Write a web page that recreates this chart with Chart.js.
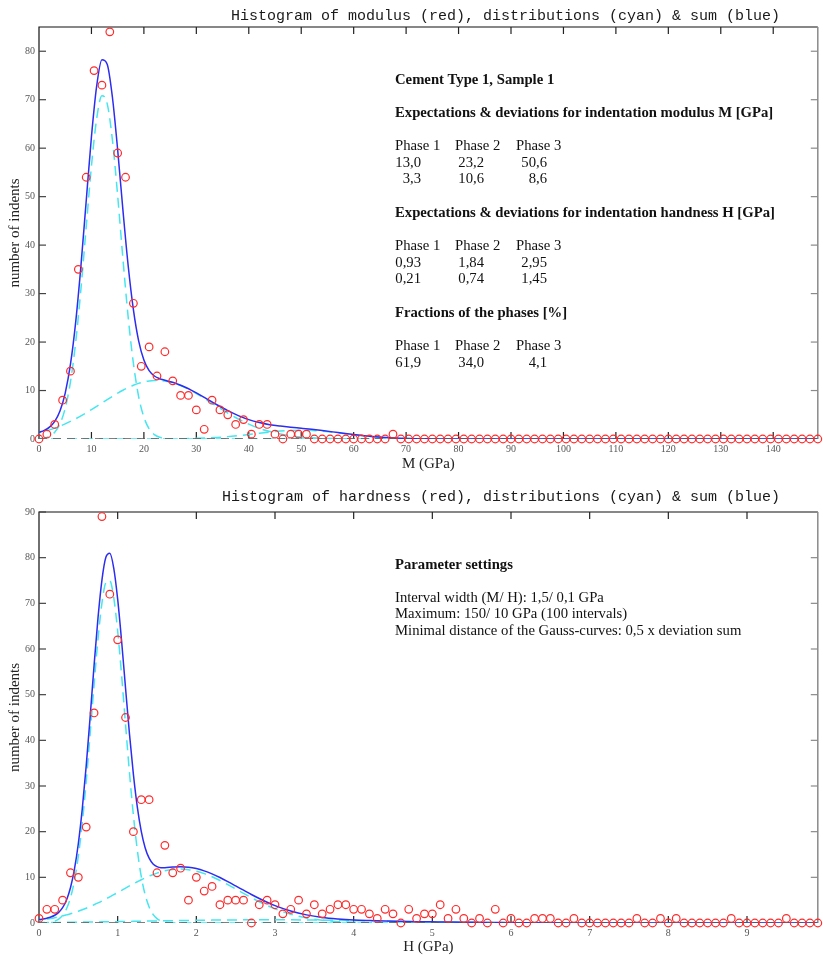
<!DOCTYPE html>
<html>
<head>
<meta charset="utf-8">
<script src="https://cdn.jsdelivr.net/npm/chart.js@4.4.0/dist/chart.umd.min.js"></script>
<style>
  html, body { margin: 0; padding: 0; background: #fff; }
  #wrap { position: relative; width: 823px; height: 955px; }
  canvas { position: absolute; left: 0; }
  #topChart { top: 0; }
  #bottomChart { top: 480px; }
</style>
</head>
<body>
<div id="wrap">
  <canvas id="topChart" width="823" height="472"></canvas>
  <canvas id="bottomChart" width="823" height="475"></canvas>
</div>
<script>
// ---- modulus histogram (interval 1,5 GPa) ----
const modulusX = [0, 1.5, 3, 4.5, 6, 7.5, 9, 10.5, 12, 13.5, 15, 16.5, 18, 19.5, 21, 22.5, 24, 25.5, 27, 28.5,
  30, 31.5, 33, 34.5, 36, 37.5, 39, 40.5, 42, 43.5, 45, 46.5, 48, 49.5, 51, 52.5, 54, 55.5, 57, 58.5,
  60, 61.5, 63, 64.5, 66, 67.5, 69, 70.5, 72, 73.5, 75, 76.5, 78, 79.5, 81, 82.5, 84, 85.5, 87, 88.5,
  90, 91.5, 93, 94.5, 96, 97.5, 99, 100.5, 102, 103.5, 105, 106.5, 108, 109.5, 111, 112.5, 114, 115.5, 117, 118.5,
  120, 121.5, 123, 124.5, 126, 127.5, 129, 130.5, 132, 133.5, 135, 136.5, 138, 139.5, 141, 142.5, 144, 145.5, 147, 148.5];
const modulusCount = [0, 1, 3, 8, 14, 35, 54, 76, 73, 84, 59, 54, 28, 15, 19, 13, 18, 12, 9, 9,
  6, 2, 8, 6, 5, 3, 4, 1, 3, 3, 1, 0, 1, 1, 1, 0, 0, 0, 0, 0,
  0, 0, 0, 0, 0, 1, 0, 0, 0, 0, 0, 0, 0, 0, 0, 0, 0, 0, 0, 0,
  0, 0, 0, 0, 0, 0, 0, 0, 0, 0, 0, 0, 0, 0, 0, 0, 0, 0, 0, 0,
  0, 0, 0, 0, 0, 0, 0, 0, 0, 0, 0, 0, 0, 0, 0, 0, 0, 0, 0, 0];

// fitted curves for modulus
const modulusCurveX = [0, 1, 2, 3, 4, 5, 6, 7, 8, 9, 10, 11, 12, 13, 14, 15, 16, 17, 18, 19, 20,
  21, 22, 23, 24, 25, 26, 27, 28, 29, 30,
  32, 34, 36, 38, 40, 42, 44, 46, 48, 50, 52, 54, 56, 58, 60, 62, 64, 66, 68, 70, 72, 74, 76, 78, 80, 148.5];
const modulusPhase1 = [0.07, 0.21, 0.57, 1.4, 3.12, 6.36, 11.8, 20.0, 31.0, 43.7, 56.3, 66.1, 70.8, 69.2, 61.7, 50.2, 37.2, 25.2, 15.6, 8.76, 4.5,
  2.11, 0.9, 0.35, 0.13, 0.04, 0.01, 0, 0, 0, 0,
  0, 0, 0, 0, 0, 0, 0, 0, 0, 0, 0, 0, 0, 0, 0, 0, 0, 0, 0, 0, 0, 0, 0, 0, 0, 0];
const modulusPhase2 = [1.28, 1.56, 1.88, 2.25, 2.66, 3.12, 3.63, 4.18, 4.78, 5.41, 6.07, 6.75, 7.44, 8.13, 8.81, 9.45, 10.06, 10.6, 11.08, 11.48, 11.78,
  11.99, 12.09, 12.08, 11.97, 11.75, 11.44, 11.04, 10.55, 10.0, 9.39,
  8.06, 6.68, 5.35, 4.13, 3.07, 2.21, 1.53, 1.03, 0.66, 0.41, 0.25, 0.14, 0.08, 0.04, 0.02, 0.01, 0, 0, 0, 0, 0, 0, 0, 0, 0, 0];
const modulusPhase3 = [0, 0, 0, 0, 0, 0, 0, 0, 0, 0, 0, 0, 0, 0, 0, 0, 0, 0, 0, 0, 0,
  0, 0.01, 0.01, 0.02, 0.03, 0.04, 0.05, 0.07, 0.1, 0.13,
  0.21, 0.33, 0.49, 0.7, 0.93, 1.19, 1.43, 1.63, 1.76, 1.8, 1.74, 1.6, 1.39, 1.15, 0.9, 0.66, 0.46, 0.31, 0.19, 0.12, 0.07, 0.03, 0.02, 0.01, 0, 0];
const modulusSum = [1.35, 1.77, 2.45, 3.65, 5.78, 9.48, 15.43, 24.18, 35.78, 49.11, 62.37, 72.85, 78.24, 77.33, 70.51, 59.65, 47.26, 35.8, 26.68, 20.24, 16.28,
  14.1, 13.0, 12.44, 12.12, 11.82, 11.49, 11.09, 10.62, 10.1, 9.52,
  8.27, 7.01, 5.84, 4.83, 4.0, 3.4, 2.96, 2.66, 2.42, 2.21, 1.99, 1.74, 1.47, 1.19, 0.92, 0.67, 0.46, 0.31, 0.19, 0.12, 0.07, 0.03, 0.02, 0.01, 0, 0];

// ---- hardness histogram (interval 0,1 GPa) ----
const hardnessX = [0, 0.1, 0.2, 0.3, 0.4, 0.5, 0.6, 0.7, 0.8, 0.9, 1.0, 1.1, 1.2, 1.3, 1.4, 1.5, 1.6, 1.7, 1.8, 1.9,
  2.0, 2.1, 2.2, 2.3, 2.4, 2.5, 2.6, 2.7, 2.8, 2.9, 3.0, 3.1, 3.2, 3.3, 3.4, 3.5, 3.6, 3.7, 3.8, 3.9,
  4.0, 4.1, 4.2, 4.3, 4.4, 4.5, 4.6, 4.7, 4.8, 4.9, 5.0, 5.1, 5.2, 5.3, 5.4, 5.5, 5.6, 5.7, 5.8, 5.9,
  6.0, 6.1, 6.2, 6.3, 6.4, 6.5, 6.6, 6.7, 6.8, 6.9, 7.0, 7.1, 7.2, 7.3, 7.4, 7.5, 7.6, 7.7, 7.8, 7.9,
  8.0, 8.1, 8.2, 8.3, 8.4, 8.5, 8.6, 8.7, 8.8, 8.9, 9.0, 9.1, 9.2, 9.3, 9.4, 9.5, 9.6, 9.7, 9.8, 9.9];
const hardnessCount = [1, 3, 3, 5, 11, 10, 21, 46, 89, 72, 62, 45, 20, 27, 27, 11, 17, 11, 12, 5,
  10, 7, 8, 4, 5, 5, 5, 0, 4, 5, 4, 2, 3, 5, 2, 4, 2, 3, 4, 4,
  3, 3, 2, 1, 3, 2, 0, 3, 1, 2, 2, 4, 1, 3, 1, 0, 1, 0, 3, 0,
  1, 0, 0, 1, 1, 1, 0, 0, 1, 0, 0, 0, 0, 0, 0, 0, 1, 0, 0, 1,
  0, 1, 0, 0, 0, 0, 0, 0, 1, 0, 0, 0, 0, 0, 0, 1, 0, 0, 0, 0];

const hardnessCurveX = [0, 0.05, 0.1, 0.15, 0.2, 0.25, 0.3, 0.35, 0.4, 0.45, 0.5, 0.55, 0.6, 0.65, 0.7, 0.75, 0.8, 0.85, 0.9, 0.95,
  1.0, 1.05, 1.1, 1.15, 1.2, 1.25, 1.3, 1.35, 1.4, 1.45, 1.5, 1.55, 1.6,
  1.7, 1.8, 1.9, 2.0, 2.1, 2.2, 2.3, 2.4, 2.5, 2.6, 2.7, 2.8, 2.9, 3.0,
  3.2, 3.4, 3.6, 3.8, 4.0, 4.2, 4.4, 4.6, 4.8, 5.0, 5.2, 5.4, 5.6, 5.8, 6.0, 7, 8, 9.9];
const hardnessPhase1 = [0.01, 0.03, 0.08, 0.18, 0.4, 0.84, 1.66, 3.12, 5.53, 9.26, 14.65, 21.9, 30.96, 41.33, 52.15, 62.17, 70.03, 74.54, 74.96, 71.23,
  63.95, 54.26, 43.49, 32.95, 23.58, 15.95, 10.19, 6.15, 3.51, 1.89, 0.96, 0.46, 0.21,
  0.04, 0.01, 0, 0, 0, 0, 0, 0, 0, 0, 0, 0, 0, 0,
  0, 0, 0, 0, 0, 0, 0, 0, 0, 0, 0, 0, 0, 0, 0, 0, 0, 0];
const hardnessPhase2 = [0.63, 0.74, 0.87, 1.01, 1.17, 1.35, 1.55, 1.78, 2.02, 2.29, 2.58, 2.9, 3.24, 3.6, 3.99, 4.4, 4.82, 5.27, 5.73, 6.2,
  6.67, 7.16, 7.64, 8.12, 8.59, 9.04, 9.48, 9.89, 10.27, 10.62, 10.93, 11.2, 11.42,
  11.71, 11.8, 11.67, 11.33, 10.81, 10.12, 9.31, 8.4, 7.45, 6.48, 5.54, 4.65, 3.83, 3.1,
  1.92, 1.11, 0.59, 0.3, 0.14, 0.06, 0.02, 0.01, 0, 0, 0, 0, 0, 0, 0, 0, 0, 0];
const hardnessPhase3 = [0.1, 0.1, 0.11, 0.12, 0.13, 0.13, 0.14, 0.15, 0.16, 0.17, 0.18, 0.19, 0.2, 0.21, 0.23, 0.24, 0.25, 0.26, 0.27, 0.29,
  0.3, 0.32, 0.33, 0.34, 0.36, 0.37, 0.39, 0.4, 0.42, 0.43, 0.45, 0.46, 0.48,
  0.5, 0.53, 0.56, 0.59, 0.61, 0.63, 0.65, 0.67, 0.68, 0.7, 0.7, 0.71, 0.71, 0.71,
  0.7, 0.67, 0.63, 0.59, 0.53, 0.48, 0.42, 0.36, 0.3, 0.25, 0.2, 0.16, 0.13, 0.1, 0.07, 0.01, 0, 0];
const hardnessSum = [0.74, 0.87, 1.06, 1.31, 1.7, 2.32, 3.35, 5.05, 7.71, 11.72, 17.41, 24.99, 34.4, 45.14, 56.37, 66.81, 75.1, 80.07, 80.96, 77.72,
  70.92, 61.74, 51.46, 41.41, 32.53, 25.36, 20.06, 16.44, 14.2, 12.94, 12.34, 12.12, 12.11,
  12.25, 12.34, 12.23, 11.92, 11.42, 10.75, 9.96, 9.07, 8.13, 7.18, 6.24, 5.36, 4.54, 3.81,
  2.62, 1.78, 1.22, 0.89, 0.67, 0.54, 0.44, 0.37, 0.3, 0.25, 0.2, 0.16, 0.13, 0.1, 0.07, 0.01, 0, 0];

// zero line
const modulusBaseX = [0, 148.5];
const hardnessBaseX = [0, 9.9];
const baseY = [0, 0];

// text block values
const phaseNames = ['Phase 1', 'Phase 2', 'Phase 3'];
const modulusMeans = ['13,0', '23,2', '50,6'];
const modulusDevs = ['3,3', '10,6', '8,6'];
const hardnessMeans = ['0,93', '1,84', '2,95'];
const hardnessDevs = ['0,21', '0,74', '1,45'];
const phaseFractions = ['61,9', '34,0', '4,1'];

const RED = '#ff2a2a';
const BLUE = '#2c2cf2';
const CYAN = '#45e6f0';
const SERIF = '"Liberation Serif", "Times New Roman", serif';

function pts(xs, ys) {
  return xs.map((x, i) => ({ x: x, y: ys[i] }));
}

function line(ctx, x1, y1, x2, y2) {
  ctx.beginPath();
  ctx.moveTo(x1, y1);
  ctx.lineTo(x2, y2);
  ctx.stroke();
}

// box + inward tick marks on all four sides
const framePlugin = {
  id: 'frame',
  beforeDatasetsDraw(chart) {
    const ctx = chart.ctx;
    const a = chart.chartArea;
    const xs = chart.scales.x;
    const ys = chart.scales.y;
    ctx.save();
    ctx.lineWidth = 1.2;
    ctx.strokeStyle = '#111';
    ctx.beginPath();
    ctx.moveTo(a.left, a.bottom);
    ctx.lineTo(a.left, a.top);
    ctx.lineTo(a.right, a.top);
    ctx.stroke();
    ctx.strokeStyle = '#8a8a8a';
    ctx.lineWidth = 1.5;
    line(ctx, a.right, a.top, a.right, a.bottom);

    ctx.lineWidth = 1.2;
    xs.ticks.forEach(t => {
      const px = xs.getPixelForValue(t.value);
      if (px < a.left + 2) return;
      ctx.strokeStyle = '#222';
      line(ctx, px, a.bottom, px, a.bottom - 7);
      line(ctx, px, a.top, px, a.top + 7);
    });
    ys.ticks.forEach(t => {
      const py = ys.getPixelForValue(t.value);
      if (t.value === 0) return;
      ctx.strokeStyle = '#444';
      line(ctx, a.left, py, a.left + 7, py);
      ctx.strokeStyle = '#8a8a8a';
      line(ctx, a.right, py, a.right - 7, py);
    });
    ctx.restore();
  }
};

// heading and the text block inside the plot
const notesPlugin = {
  id: 'notes',
  afterDraw(chart, args, opts) {
    const ctx = chart.ctx;
    ctx.save();
    ctx.textBaseline = 'middle';
    ctx.fillStyle = '#1a1a1a';
    ctx.font = '15px "Liberation Mono", "Courier New", monospace';
    ctx.textAlign = 'right';
    ctx.fillText(opts.heading, 780, opts.headingY);
    (opts.lines || []).forEach(l => {
      ctx.font = (l.b ? 'bold ' : '') + '14.7px ' + SERIF;
      ctx.textAlign = l.align || 'left';
      ctx.fillStyle = '#111';
      ctx.fillText(l.t, l.x, l.y);
    });
    ctx.restore();
  }
};

function tableRows(y, header, a, b) {
  const rows = [];
  const hx = [395, 455, 516];
  const vx = [421, 484, 547];
  header.forEach((h, i) => rows.push({ t: h, x: hx[i], y: y }));
  if (a) a.forEach((v, i) => rows.push({ t: v, x: vx[i], y: y + 16.7, align: 'right' }));
  if (b) b.forEach((v, i) => rows.push({ t: v, x: vx[i], y: y + 33.4, align: 'right' }));
  return rows;
}

const topLines = [
  { t: 'Cement Type 1, Sample 1', x: 395, y: 80, b: true },
  { t: 'Expectations & deviations for indentation modulus M [GPa]', x: 395, y: 113, b: true },
  ...tableRows(146, phaseNames, modulusMeans, modulusDevs),
  { t: 'Expectations & deviations for indentation handness H [GPa]', x: 395, y: 213, b: true },
  ...tableRows(246, phaseNames, hardnessMeans, hardnessDevs),
  { t: 'Fractions of the phases [%]', x: 395, y: 313, b: true },
  ...tableRows(346.5, phaseNames, phaseFractions, null)
];

const bottomLines = [
  { t: 'Parameter settings', x: 395, y: 85, b: true },
  { t: 'Interval width (M/ H): 1,5/ 0,1 GPa', x: 395, y: 118.3 },
  { t: 'Maximum: 150/ 10 GPa (100 intervals)', x: 395, y: 134.5 },
  { t: 'Minimal distance of the Gauss-curves: 0,5 x deviation sum', x: 395, y: 150.8 }
];

function makeDatasets(hx, hy, baseX, cx, p1, p2, p3, sum) {
  const curve = (data, color, dash, off) => ({
    data: data,
    borderColor: color,
    borderWidth: 1.5,
    borderDash: dash,
    borderDashOffset: off,
    pointRadius: 0,
    fill: false,
    cubicInterpolationMode: 'monotone'
  });
  return [
    {
      data: pts(hx, hy),
      showLine: false,
      pointRadius: 3.8,
      pointBorderWidth: 1.2,
      pointBorderColor: RED,
      pointBackgroundColor: 'rgba(0,0,0,0)',
      clip: false
    },
    {
      data: pts(baseX, baseY),
      borderColor: '#555',
      borderWidth: 1.6,
      borderDash: [8, 6],
      pointRadius: 0
    },
    curve(pts(cx, sum), BLUE, [], 0),
    curve(pts(cx, p1), CYAN, [10, 6], 0),
    curve(pts(cx, p2), CYAN, [10, 6], 8),
    curve(pts(cx, p3), CYAN, [10, 6], 4)
  ];
}

function makeOptions(xMax, xStep, yMax, pad, xHeight, xTitle, heading, headingY, lines) {
  return {
    responsive: false,
    animation: false,
    events: [],
    layout: { padding: { top: pad, right: 2.5, left: 0, bottom: 0 } },
    plugins: {
      legend: { display: false },
      tooltip: { enabled: false },
      notes: { heading: heading, headingY: headingY, lines: lines }
    },
    scales: {
      x: {
        type: 'linear',
        min: 0,
        max: xMax,
        grid: { display: false, drawTicks: false },
        border: { display: false },
        ticks: {
          stepSize: xStep,
          includeBounds: false,
          padding: 4,
          color: '#555',
          font: { family: SERIF, size: 10 },
          maxRotation: 0
        },
        title: {
          display: true,
          text: xTitle,
          color: '#222',
          font: { family: SERIF, size: 15, lineHeight: 1 },
          padding: 0
        },
        afterFit: s => { s.height = xHeight; }
      },
      y: {
        min: 0,
        max: yMax,
        grid: { display: false, drawTicks: false },
        border: { display: false },
        ticks: {
          stepSize: 10,
          includeBounds: false,
          padding: 4,
          color: '#555',
          font: { family: SERIF, size: 10 }
        },
        title: {
          display: true,
          text: 'number of indents',
          color: '#222',
          font: { family: SERIF, size: 15, lineHeight: 1.2 },
          padding: { top: 6, bottom: 0 }
        },
        afterFit: s => { s.width = 39; }
      }
    }
  };
}

new Chart(document.getElementById('topChart').getContext('2d'), {
  type: 'line',
  data: {
    datasets: makeDatasets(modulusX, modulusCount, modulusBaseX, modulusCurveX,
      modulusPhase1, modulusPhase2, modulusPhase3, modulusSum)
  },
  options: makeOptions(148.5, 10, 85, 27, 33, 'M (GPa)',
    'Histogram of modulus (red), distributions (cyan) & sum (blue)', 16, topLines),
  plugins: [framePlugin, notesPlugin]
});

new Chart(document.getElementById('bottomChart').getContext('2d'), {
  type: 'line',
  data: {
    datasets: makeDatasets(hardnessX, hardnessCount, hardnessBaseX, hardnessCurveX,
      hardnessPhase1, hardnessPhase2, hardnessPhase3, hardnessSum)
  },
  options: makeOptions(9.9, 1, 90, 32, 32, 'H (GPa)',
    'Histogram of hardness (red), distributions (cyan) & sum (blue)', 17.5, bottomLines),
  plugins: [framePlugin, notesPlugin]
});
</script>
</body>
</html>
